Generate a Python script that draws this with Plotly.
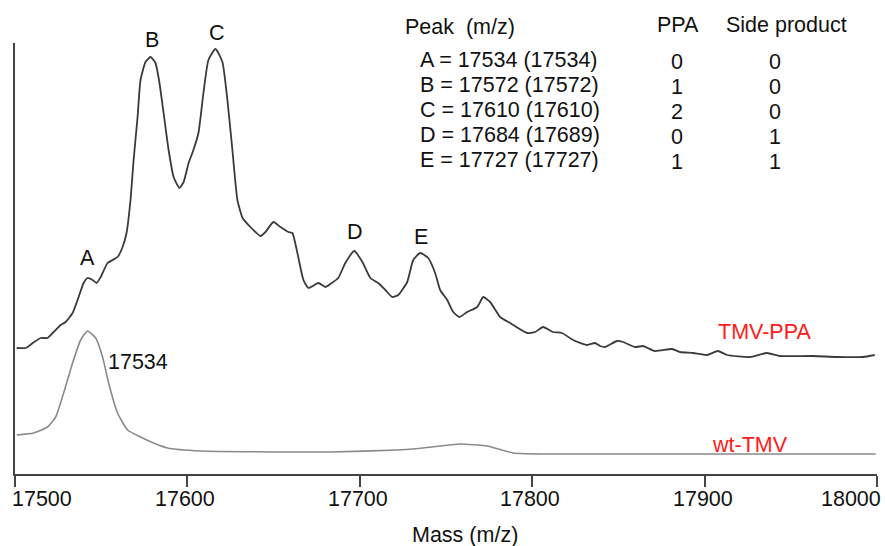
import plotly.graph_objects as go

# ---- data (mass in Da, intensity in arbitrary units) ----
ppa_mass = [17501.0, 17506.2, 17510.3, 17514.9, 17518.9, 17522.4, 17526.5, 17529.4, 17533.4, 17536.9,
            17539.8, 17542.1, 17545.0, 17547.3, 17549.7, 17553.7, 17556.6, 17559.5, 17562.4, 17564.7,
            17567.0, 17568.8, 17571.1, 17572.8, 17575.7, 17578.6, 17581.5, 17583.8, 17586.2, 17589.1,
            17592.0, 17595.4, 17597.8, 17600.7, 17603.5, 17606.4, 17609.3, 17612.2, 17616.3, 17620.3,
            17623.2, 17626.1, 17629.0, 17632.0, 17635.4, 17639.5, 17642.4, 17645.3, 17649.9, 17654.0,
            17658.6, 17660.9, 17663.8, 17667.3, 17670.2, 17676.0, 17680.0, 17682.9, 17687.5, 17691.6,
            17696.8, 17701.5, 17706.1, 17710.7, 17714.8, 17718.8, 17722.3, 17727.5, 17731.0, 17735.1,
            17739.7, 17743.7, 17746.6, 17750.7, 17754.2, 17757.7, 17762.3, 17768.1, 17771.6, 17775.6,
            17781.4, 17787.2, 17797.1, 17801.7, 17806.3, 17812.1, 17817.3, 17823.7, 17831.8, 17836.4,
            17839.4, 17842.3, 17849.2, 17852.7, 17859.6, 17864.3, 17871.2, 17881.1, 17885.7, 17893.3,
            17901.4, 17907.7, 17913.0, 17926.3, 17936.2, 17943.7, 17962.8, 17976.7, 17991.8, 17998.7]
ppa_int = [126, 126, 131, 136, 136, 142, 149, 152, 161, 177,
           191, 196, 194, 191, 197, 211, 214, 217, 227, 241,
           274, 314, 357, 394, 412, 417, 411, 391, 361, 324,
           297, 286, 292, 311, 324, 341, 381, 414, 425, 412,
           374, 324, 274, 256, 249, 242, 238, 242, 252, 247,
           242, 241, 221, 194, 186, 191, 187, 190, 196, 211,
           223, 212, 196, 191, 184, 177, 179, 192, 214, 221,
           216, 201, 184, 174, 162, 157, 162, 167, 177, 172,
           157, 151, 141, 142, 147, 142, 141, 134, 129, 131,
           128, 127, 133, 132, 127, 128, 123, 125, 122, 121,
           119, 123, 119, 117, 121, 118, 118, 117, 117, 119]

wt_mass = [17501.0, 17510.8, 17518.9, 17523.6, 17528.2, 17533.4, 17538.1, 17542.1, 17546.8, 17550.8,
           17554.3, 17559.5, 17565.3, 17572.8, 17580.4, 17588.5, 17607.6, 17665.5, 17682.9, 17721.7,
           17736.8, 17746.6, 17758.2, 17773.9, 17789.0, 17808.7, 17839.4, 17897.3, 17999.3]
wt_int = [39, 41, 47, 57, 81, 111, 134, 143, 136, 117,
          91, 61, 44, 37, 31, 26, 23, 22, 22, 24,
          26, 28, 30, 28, 21, 20, 20, 20, 20]

tick_vals = [17500, 17600, 17700, 17800, 17900, 18000]
tick_text = ["17500", "17600", "17700", "17800", "17900", "18000"]

peak_letters = ["A", "B", "C", "D", "E"]
peak_label_mass = [17542.1, 17579.2, 17617.4, 17697.3, 17735.5]
peak_label_int = [216, 434, 441, 242, 237]

table_peak = ["A", "B", "C", "D", "E"]
table_calc = [17534, 17572, 17610, 17684, 17727]
table_obs = [17534, 17572, 17610, 17689, 17727]
table_ppa = [0, 1, 2, 0, 1]
table_side = [0, 0, 0, 1, 1]

Y_MAX = 431
FONT = "Arial, 'Liberation Sans', Helvetica, sans-serif"
FS = 21.5
TXT = "#111111"


def yp(v):
    """intensity value -> paper fraction (lets labels sit above the axis top)"""
    return v / Y_MAX


fig = go.Figure()
fig.add_trace(go.Scatter(x=wt_mass, y=wt_int, mode="lines",
                         line=dict(color="#8a8a8a", width=1.6, shape="spline", smoothing=0.5),
                         hoverinfo="skip", showlegend=False))
fig.add_trace(go.Scatter(x=ppa_mass, y=ppa_int, mode="lines",
                         line=dict(color="#3a3a3a", width=1.8, shape="spline", smoothing=0.5),
                         hoverinfo="skip", showlegend=False))

ann = []
# tick labels (first left-aligned, last right-aligned)
for i, (v, t) in enumerate(zip(tick_vals, tick_text)):
    xa = "left" if i == 0 else ("right" if i == len(tick_vals) - 1 else "center")
    xs = -5 if i == 0 else (6 if i == len(tick_vals) - 1 else -2)
    ann.append(dict(x=v, y=0, xref="x", yref="paper", text=t, showarrow=False,
                    xanchor=xa, yanchor="middle", yshift=-25, xshift=xs,
                    font=dict(family=FONT, size=FS, color=TXT)))
# axis title
ann.append(dict(x=17761, y=0, xref="x", yref="paper", text="Mass (m/z)", showarrow=False,
                xanchor="center", yanchor="middle", yshift=-61,
                font=dict(family=FONT, size=FS, color=TXT)))
# peak letters
for l, xm, yi in zip(peak_letters, peak_label_mass, peak_label_int):
    ann.append(dict(x=xm, y=yp(yi), xref="x", yref="paper", text=l, showarrow=False,
                    xanchor="center", yanchor="middle",
                    font=dict(family=FONT, size=FS, color=TXT)))
ann.append(dict(x=17552.6, y=yp(112), xref="x", yref="paper", text="17534", showarrow=False,
                xanchor="left", yanchor="middle",
                font=dict(family=FONT, size=FS, color=TXT)))
# table
ann.append(dict(x=17725.0, y=yp(447), xref="x", yref="paper", text="Peak\u00a0\u00a0(m/z)",
                showarrow=False, xanchor="left", yanchor="middle",
                font=dict(family=FONT, size=FS, color=TXT)))
ann.append(dict(x=17884.5, y=yp(449), xref="x", yref="paper", text="PPA", showarrow=False,
                xanchor="center", yanchor="middle", font=dict(family=FONT, size=FS, color=TXT)))
ann.append(dict(x=17947.6, y=yp(449), xref="x", yref="paper", text="Side product", showarrow=False,
                xanchor="center", yanchor="middle", font=dict(family=FONT, size=FS, color=TXT)))
row_int = [414, 389, 364, 339, 314]
for i in range(len(table_peak)):
    ann.append(dict(x=17734.0, y=yp(row_int[i]), xref="x", yref="paper",
                    text=f"{table_peak[i]} = {table_calc[i]} ({table_obs[i]})", showarrow=False,
                    xanchor="left", yanchor="middle", font=dict(family=FONT, size=FS, color=TXT)))
    ann.append(dict(x=17883.9, y=yp(row_int[i] - 2), xref="x", yref="paper", text=str(table_ppa[i]),
                    showarrow=False, xanchor="center", yanchor="middle",
                    font=dict(family=FONT, size=FS, color=TXT)))
    ann.append(dict(x=17940.7, y=yp(row_int[i] - 2), xref="x", yref="paper", text=str(table_side[i]),
                    showarrow=False, xanchor="center", yanchor="middle",
                    font=dict(family=FONT, size=FS, color=TXT)))
# series labels
ann.append(dict(x=17935.0, y=yp(142), xref="x", yref="paper", text="TMV-PPA", showarrow=False,
                xanchor="center", yanchor="middle", font=dict(family=FONT, size=FS, color="#ff1a1a")))
ann.append(dict(x=17926.5, y=yp(29), xref="x", yref="paper", text="wt-TMV", showarrow=False,
                xanchor="center", yanchor="middle", font=dict(family=FONT, size=FS, color="#ff1a1a")))

fig.update_layout(
    width=885, height=546,
    margin=dict(l=15, r=8, t=43, b=72),
    paper_bgcolor="white", plot_bgcolor="white",
    annotations=ann,
    xaxis=dict(range=[17500, 18000], tickvals=tick_vals, showticklabels=False,
               ticks="outside", ticklen=11, tickwidth=2, tickcolor="#444",
               showline=True, linecolor="#444", linewidth=2, showgrid=False, zeroline=False,
               fixedrange=True),
    yaxis=dict(range=[0, Y_MAX], showticklabels=False, ticks="", showline=True,
               linecolor="#444", linewidth=2, showgrid=False, zeroline=False, fixedrange=True),
)
fig.write_html("out.html", config={"displayModeBar": False},
               post_script="document.body.style.margin='0';document.body.style.overflow='hidden';")
